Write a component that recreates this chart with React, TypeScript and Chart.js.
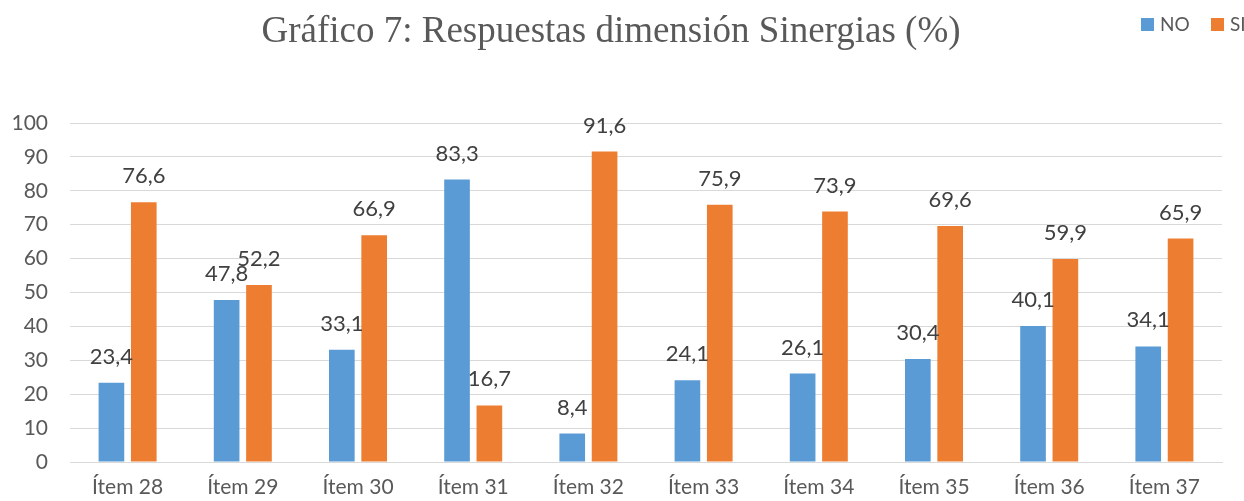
import React, { useEffect, useRef } from "react";
import { Chart, registerables } from "chart.js";

Chart.register(...registerables);

const categories = ["Ítem 28", "Ítem 29", "Ítem 30", "Ítem 31", "Ítem 32", "Ítem 33", "Ítem 34", "Ítem 35", "Ítem 36", "Ítem 37"];
const noValues = [23.4, 47.8, 33.1, 83.3, 8.4, 24.1, 26.1, 30.4, 40.1, 34.1];
const siValues = [76.6, 52.2, 66.9, 16.7, 91.6, 75.9, 73.9, 69.6, 59.9, 65.9];
const seriesNames = ["NO", "SI"];
const titleText = "Gráfico 7: Respuestas dimensión Sinergias (%)";

const BLUE = "#5B9BD5";
const ORANGE = "#ED7D31";
const FONT = "Lato, 'Open Sans', sans-serif";

const valueLabels = {
  id: "valueLabels",
  afterDatasetsDraw(chart: any) {
    const ctx = chart.ctx;
    ctx.save();
    ctx.font = `22px ${FONT}`;
    ctx.fillStyle = "#404040";
    ctx.textAlign = "center";
    ctx.textBaseline = "middle";
    chart.data.datasets.forEach((ds: any, i: number) => {
      const meta = chart.getDatasetMeta(i);
      meta.data.forEach((bar: any, j: number) => {
        const v = ds.data[j];
        ctx.fillText(String(v).replace(".", ","), bar.x, bar.y - 26);
      });
    });
    ctx.restore();
  },
};

const customLegend = {
  id: "customLegend",
  afterDraw(chart: any) {
    const ctx = chart.ctx;
    ctx.save();
    ctx.font = `19px ${FONT}`;
    ctx.textBaseline = "middle";
    const items = [
      { name: seriesNames[0], color: BLUE, x: 1141 },
      { name: seriesNames[1], color: ORANGE, x: 1211 },
    ];
    items.forEach((it) => {
      ctx.fillStyle = it.color;
      ctx.fillRect(it.x, 18, 13, 13);
      ctx.fillStyle = "#595959";
      ctx.fillText(it.name, it.x + 19, 25);
    });
    ctx.restore();
  },
};

export default function App() {
  const ref = useRef<HTMLCanvasElement>(null);
  useEffect(() => {
    if (!ref.current) return;
    const chart = new Chart(ref.current, {
      type: "bar",
      data: {
        labels: categories,
        datasets: [
          { label: seriesNames[0], data: noValues, backgroundColor: BLUE, borderWidth: 0 },
          { label: seriesNames[1], data: siValues, backgroundColor: ORANGE, borderWidth: 0 },
        ],
      },
      options: {
        animation: false,
        responsive: false,
        maintainAspectRatio: false,
        layout: { padding: { left: 0, right: 22, top: 0, bottom: 0 } },
        datasets: { bar: { categoryPercentage: 0.5616, barPercentage: 0.793 } },
        plugins: {
          legend: { display: false },
          tooltip: { enabled: false },
          title: {
            display: true,
            text: titleText,
            color: "#595959",
            font: { family: "'Liberation Serif', 'Times New Roman', serif", size: 37, weight: "normal" },
            padding: { top: 10, bottom: 68.6 },
          },
        },
        scales: {
          x: {
            grid: { display: false, drawTicks: false },
            border: { display: true, color: "#d9d9d9" },
            ticks: { color: "#595959", font: { family: FONT, size: 21 }, padding: 13, maxRotation: 0 },
            afterFit: (s: any) => { s.height = 39; },
          },
          y: {
            min: 0,
            max: 100,
            ticks: { stepSize: 10, color: "#595959", font: { family: FONT, size: 21 }, padding: 22 },
            grid: { color: "#d9d9d9", lineWidth: 1, drawTicks: false },
            border: { display: false },
            afterFit: (s: any) => { s.width = 70; },
          },
        },
      },
      plugins: [valueLabels, customLegend],
    });
    return () => chart.destroy();
  }, []);
  return (
    <div style={{ position: "fixed", left: 0, top: 0, width: 1244, height: 501, background: "#fff" }}>
      <canvas ref={ref} width={1244} height={501} />
    </div>
  );
}
